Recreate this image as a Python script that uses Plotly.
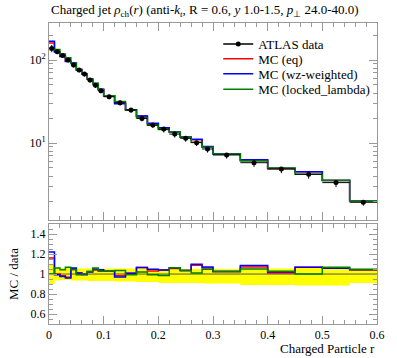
import plotly.graph_objects as go

# bin edges in r
edges = [0.0, 0.01, 0.02, 0.03, 0.04, 0.05, 0.06, 0.07, 0.08, 0.09, 0.10,
         0.12, 0.14, 0.16, 0.18, 0.20, 0.22, 0.24, 0.26, 0.28, 0.30,
         0.35, 0.40, 0.45, 0.50, 0.55, 0.60]

data = [138, 126, 113, 100, 87, 75.8, 67.8, 57.4, 49.5, 42.7, 36.1, 30.6, 25.0,
        19.8, 16.5, 14.7, 12.8, 11.4, 10.1, 8.47, 7.17, 5.79, 4.86, 4.2, 3.33, 1.93]
# relative data uncertainty (up / down)
rel_up = [0.10, 0.065, 0.06, 0.06, 0.06, 0.055, 0.055, 0.055, 0.055, 0.055, 0.055, 0.055, 0.055,
          0.055, 0.055, 0.05, 0.05, 0.05, 0.05, 0.05, 0.05, 0.055, 0.055, 0.07, 0.07, 0.055]
rel_dn = [0.10, 0.065, 0.06, 0.06, 0.065, 0.065, 0.065, 0.07, 0.07, 0.07, 0.07, 0.075, 0.075,
          0.08, 0.08, 0.09, 0.09, 0.09, 0.09, 0.095, 0.095, 0.11, 0.11, 0.115, 0.115, 0.09]

mc_eq = [160.1, 126, 111.1, 96.7, 91.6, 76.6, 67.8, 58.9, 51.5, 44.2, 37.1, 30.1, 25.2,
         21.1, 17.0, 15.3, 13.5, 11.8, 10.98, 8.98, 7.36, 6.20, 4.91, 4.49, 3.52, 2.01]
mc_wz = [168.4, 125.1, 110.2, 96.0, 92.2, 76.6, 67.3, 58.5, 52.0, 44.5, 37.1, 29.7, 25.2,
         21.1, 17.3, 15.3, 13.6, 11.8, 11.1, 9.06, 7.36, 6.29, 4.96, 4.49, 3.52, 2.02]
mc_ll = [138, 133.6, 117.9, 106.7, 90.7, 75.3, 67.8, 58.9, 52.5, 43.9, 37.1, 31.7, 24.8,
         20.2, 16.4, 14.5, 13.6, 11.8, 10.2, 8.87, 7.36, 6.08, 4.99, 4.2, 3.56, 2.02]

names = ["MC (eq)", "MC (wz-weighted)", "MC (locked_lambda)"]
colors = ["red", "blue", "green"]
mcs = [mc_eq, mc_wz, mc_ll]
legend_ids = ["legend2", "legend3", "legend4"]

centers = [(edges[i] + edges[i + 1]) / 2 for i in range(len(data))]
halfw = [(edges[i + 1] - edges[i]) / 2 for i in range(len(data))]

def step(vals):
    return list(edges), list(vals) + [vals[-1]]

FONT = "Liberation Serif"
fig = go.Figure()

# ratio band
bx, bup = step([1 + u for u in rel_up])
_, bdn = step([1 - d for d in rel_dn])
fig.add_trace(go.Scatter(x=bx, y=bup, mode="lines", line=dict(width=0, shape="hv"),
                         showlegend=False, xaxis="x2", yaxis="y2", hoverinfo="skip"))
fig.add_trace(go.Scatter(x=bx, y=bdn, mode="lines", line=dict(width=0, shape="hv"),
                         fill="tonexty", fillcolor="#ffff00", showlegend=False,
                         xaxis="x2", yaxis="y2", hoverinfo="skip"))
sx, s1 = step([1.0] * len(data))
fig.add_trace(go.Scatter(x=sx, y=s1, mode="lines", line=dict(color="#555555", width=1, shape="hv"),
                         showlegend=False, xaxis="x2", yaxis="y2"))

for name, col, mc, lg in zip(names, colors, mcs, legend_ids):
    x, y = step(mc)
    fig.add_trace(go.Scatter(x=x, y=y, mode="lines", name=name, legend=lg,
                             line=dict(color=col, width=1.5, shape="hv"),
                             xaxis="x", yaxis="y"))
    rx, ry = step([m / d for m, d in zip(mc, data)])
    fig.add_trace(go.Scatter(x=rx, y=ry, mode="lines", showlegend=False,
                             line=dict(color=col, width=1.5, shape="hv"),
                             xaxis="x2", yaxis="y2"))

# main panel data (drawn on top)
fig.add_trace(go.Scatter(
    x=centers, y=data, mode="markers", name="ATLAS data", showlegend=False,
    marker=dict(color="black", size=5),
    error_y=dict(type="data", array=[d * u for d, u in zip(data, rel_up)],
                 arrayminus=[d * l for d, l in zip(data, rel_dn)],
                 color="black", thickness=1, width=0),
    error_x=dict(type="data", array=halfw, color="black", thickness=1, width=0),
    xaxis="x", yaxis="y"))
# legend entry for data (line + dot)
fig.add_trace(go.Scatter(x=[None], y=[None], mode="lines+markers", name="ATLAS data",
                         legend="legend", marker=dict(color="black", size=5),
                         line=dict(color="black", width=1.5), xaxis="x", yaxis="y"))

axcol = "#999999"
common = dict(showline=True, linecolor=axcol, linewidth=1, mirror="ticks", ticks="inside",
              tickcolor=axcol, showgrid=False, zeroline=False,
              tickfont=dict(family=FONT, size=12, color="black"))

def leg(y):
    return dict(x=0.516, y=y, xanchor="left", yanchor="middle", bgcolor="rgba(0,0,0,0)",
                font=dict(family=FONT, size=13, color="black"), itemwidth=30)

fig.update_layout(
    width=397, height=358,
    margin=dict(l=49, r=13, t=23, b=34),
    paper_bgcolor="white", plot_bgcolor="white",
    showlegend=True,
    legend=leg(0.930), legend2=leg(0.881), legend3=leg(0.831), legend4=leg(0.780),
    xaxis=dict(domain=[0, 1], range=[0, 0.6], anchor="y", matches="x2", showticklabels=False,
               dtick=0.1, ticklen=8, minor=dict(dtick=0.02, ticklen=4, ticks="inside", tickcolor=axcol),
               **common),
    yaxis=dict(domain=[0.3455, 1], type="log", range=[0.072, 2.446], anchor="x",
               tickvals=[10, 100], ticktext=["10<sup>1</sup>", "10<sup>2</sup>"], ticklen=8,
               minor=dict(tickvals=[2, 3, 4, 5, 6, 7, 8, 9, 20, 30, 40, 50, 60, 70, 80, 90, 200],
                          ticklen=4, ticks="inside", tickcolor=axcol),
               **common),
    xaxis2=dict(domain=[0, 1], range=[0, 0.6], anchor="y2", ticklen=8,
                tickvals=[0, 0.1, 0.2, 0.3, 0.4, 0.5, 0.6],
                ticktext=["0", "0.1", "0.2", "0.3", "0.4", "0.5", "0.6"],
                minor=dict(dtick=0.02, ticklen=4, ticks="inside", tickcolor=axcol),
                **common),
    yaxis2=dict(domain=[0, 0.332], range=[0.5, 1.5], anchor="x2",
                tickvals=[0.6, 0.8, 1.0, 1.2, 1.4], ticktext=["0.6", "0.8", "1", "1.2", "1.4"],
                ticklen=8, minor=dict(dtick=0.05, ticklen=4, ticks="inside", tickcolor=axcol),
                title=dict(text="MC / data", font=dict(family=FONT, size=13, color="black"), standoff=9),
                **common),
    annotations=[
        dict(text="Charged jet <i>ρ</i><sub>ch</sub>(<i>r</i>) (anti-<i>k</i><sub><i>t</i></sub>, R = 0.6, "
                  "<i>y</i> 1.0-1.5, <i>p</i><sub>⊥</sub> 24.0-40.0)",
             xref="paper", yref="paper", x=0, y=1.043, xanchor="left", yanchor="middle",
             showarrow=False, font=dict(family=FONT, size=13, color="black")),
        dict(text="Charged Particle r", xref="paper", yref="paper", x=1, y=-0.08,
             xanchor="right", yanchor="middle", showarrow=False,
             font=dict(family=FONT, size=13, color="black")),
    ],
)

fig.write_html("out.html", config={"displayModeBar": False},
               post_script="document.body.style.margin='0';document.body.style.overflow='hidden';")
